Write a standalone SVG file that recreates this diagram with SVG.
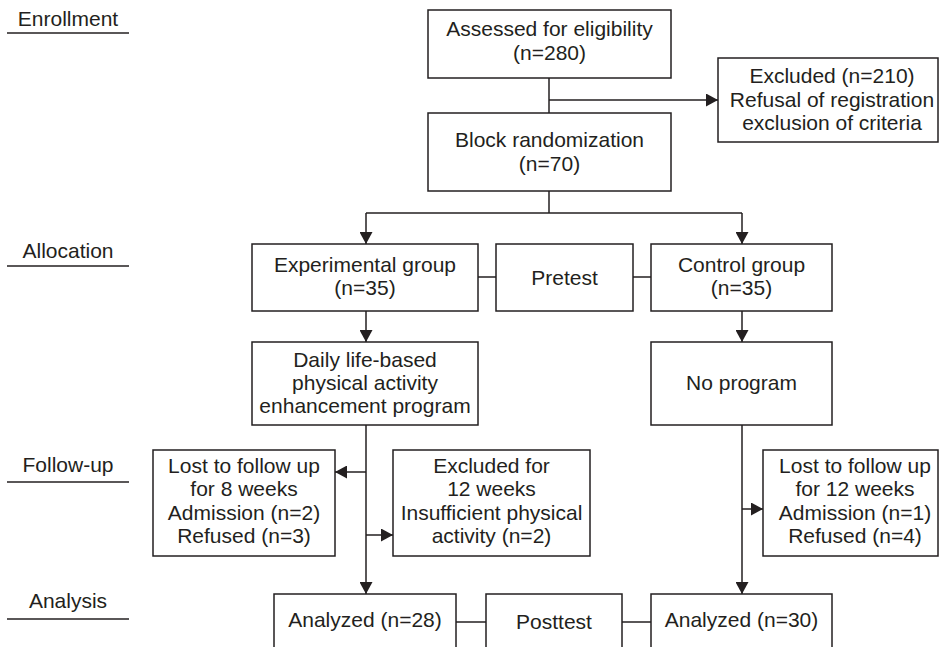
<svg xmlns="http://www.w3.org/2000/svg" width="939" height="647" viewBox="0 0 939 647">
<style>
  .box{fill:#fff;stroke:#231f20;stroke-width:1.5}
  .t{font-family:"Liberation Sans",Arial,sans-serif;font-size:21px;fill:#231f20;text-anchor:middle}
  .ln{fill:none;stroke:#231f20;stroke-width:1.5}
</style>
<defs>
  <marker id="ah" markerUnits="userSpaceOnUse" markerWidth="13" markerHeight="13" refX="12" refY="6.5" orient="auto">
    <path d="M0,0 L12,6.5 L0,13 z" fill="#231f20"/>
  </marker>
</defs>
<rect width="939" height="647" fill="#fff"/>

<g id="stages">
  <text class="t" x="68" y="26">Enrollment</text>
  <line class="ln" x1="7" y1="33" x2="129" y2="33"/>
  <text class="t" x="68" y="258">Allocation</text>
  <line class="ln" x1="7" y1="266" x2="129" y2="266"/>
  <text class="t" x="68" y="472">Follow-up</text>
  <line class="ln" x1="7" y1="482" x2="129" y2="482"/>
  <text class="t" x="68" y="608">Analysis</text>
  <line class="ln" x1="7" y1="619" x2="129" y2="619"/>
</g>

<g id="connectors">
  <line class="ln" x1="549" y1="78" x2="549" y2="113"/>
  <line class="ln" x1="549" y1="100" x2="718" y2="100" marker-end="url(#ah)"/>
  <line class="ln" x1="549" y1="191" x2="549" y2="213"/>
  <line class="ln" x1="366" y1="213" x2="742" y2="213"/>
  <line class="ln" x1="366" y1="213" x2="366" y2="244" marker-end="url(#ah)"/>
  <line class="ln" x1="742" y1="213" x2="742" y2="244" marker-end="url(#ah)"/>
  <line class="ln" x1="478" y1="277" x2="496" y2="277"/>
  <line class="ln" x1="633" y1="277" x2="651" y2="277"/>
  <line class="ln" x1="366" y1="311" x2="366" y2="342" marker-end="url(#ah)"/>
  <line class="ln" x1="742" y1="311" x2="742" y2="342" marker-end="url(#ah)"/>
  <line class="ln" x1="366" y1="425" x2="366" y2="594" marker-end="url(#ah)"/>
  <line class="ln" x1="366" y1="472" x2="335" y2="472" marker-end="url(#ah)"/>
  <line class="ln" x1="366" y1="535" x2="393" y2="535" marker-end="url(#ah)"/>
  <line class="ln" x1="742" y1="425" x2="742" y2="594" marker-end="url(#ah)"/>
  <line class="ln" x1="742" y1="509" x2="763" y2="509" marker-end="url(#ah)"/>
  <line class="ln" x1="456" y1="622" x2="486" y2="622"/>
  <line class="ln" x1="622" y1="622" x2="651" y2="622"/>
</g>

<g id="assessed">
  <rect class="box" x="428" y="10" width="243" height="68"/>
  <text class="t" x="549.5" y="36">Assessed for eligibility</text>
  <text class="t" x="549.5" y="60">(n=280)</text>
</g>
<g id="excluded">
  <rect class="box" x="718" y="58" width="220" height="84"/>
  <text class="t" x="832" y="83">Excluded (n=210)</text>
  <text class="t" x="832" y="107">Refusal of registration</text>
  <text class="t" x="832" y="130">exclusion of criteria</text>
</g>
<g id="block">
  <rect class="box" x="428" y="113" width="243" height="78"/>
  <text class="t" x="549.5" y="147">Block randomization</text>
  <text class="t" x="549.5" y="171">(n=70)</text>
</g>
<g id="experimental">
  <rect class="box" x="252" y="244" width="226" height="67"/>
  <text class="t" x="365" y="272">Experimental group</text>
  <text class="t" x="365" y="295">(n=35)</text>
</g>
<g id="pretest">
  <rect class="box" x="496" y="244" width="137" height="67"/>
  <text class="t" x="564.5" y="285">Pretest</text>
</g>
<g id="control">
  <rect class="box" x="651" y="244" width="181" height="67"/>
  <text class="t" x="741.5" y="272">Control group</text>
  <text class="t" x="741.5" y="295">(n=35)</text>
</g>
<g id="program">
  <rect class="box" x="252" y="342" width="226" height="83"/>
  <text class="t" x="365" y="367">Daily life-based</text>
  <text class="t" x="365" y="390">physical activity</text>
  <text class="t" x="365" y="413">enhancement program</text>
</g>
<g id="noprogram">
  <rect class="box" x="651" y="342" width="181" height="83"/>
  <text class="t" x="741.5" y="390">No program</text>
</g>
<g id="lost8">
  <rect class="box" x="153" y="450" width="182" height="106"/>
  <text class="t" x="244" y="473">Lost to follow up</text>
  <text class="t" x="244" y="496">for 8 weeks</text>
  <text class="t" x="244" y="520">Admission (n=2)</text>
  <text class="t" x="244" y="543">Refused (n=3)</text>
</g>
<g id="excluded12">
  <rect class="box" x="393" y="450" width="197" height="106"/>
  <text class="t" x="491.5" y="473">Excluded for</text>
  <text class="t" x="491.5" y="496">12 weeks</text>
  <text class="t" x="491.5" y="520">Insufficient physical</text>
  <text class="t" x="491.5" y="543">activity (n=2)</text>
</g>
<g id="lost12">
  <rect class="box" x="763" y="450" width="175" height="106"/>
  <text class="t" x="855" y="473">Lost to follow up</text>
  <text class="t" x="855" y="496">for 12 weeks</text>
  <text class="t" x="855" y="520">Admission (n=1)</text>
  <text class="t" x="855" y="543">Refused (n=4)</text>
</g>
<g id="analyzed28">
  <rect class="box" x="274" y="594" width="182" height="70"/>
  <text class="t" x="365" y="627">Analyzed (n=28)</text>
</g>
<g id="posttest">
  <rect class="box" x="486" y="594" width="136" height="70"/>
  <text class="t" x="554" y="629">Posttest</text>
</g>
<g id="analyzed30">
  <rect class="box" x="651" y="594" width="181" height="70"/>
  <text class="t" x="741.5" y="627">Analyzed (n=30)</text>
</g>
</svg>
